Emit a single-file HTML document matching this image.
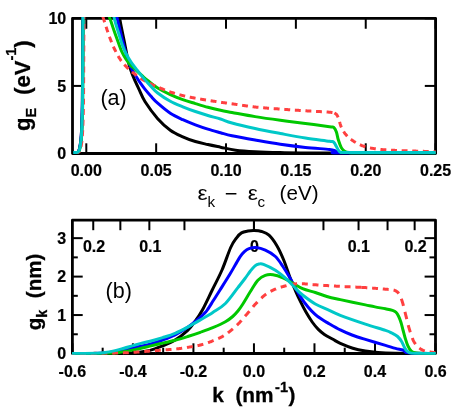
<!DOCTYPE html>
<html><head><meta charset="utf-8"><title>chart</title>
<style>html,body{margin:0;padding:0;background:#fff}svg{display:block;will-change:transform}text{font-family:"Liberation Sans",sans-serif;fill:#000}.t{font-weight:bold;font-size:16.0px;stroke:#000;stroke-width:0.2px}.L{font-weight:bold;font-size:22px;stroke:#000;stroke-width:0.3px}.R{font-size:21.5px}</style>
</head><body>
<svg width="462" height="410" viewBox="0 0 462 410">
<rect x="0" y="0" width="462" height="410" fill="#fff"/>
<defs>
<clipPath id="ca"><rect x="71.20" y="17.05" width="365.70" height="137.75"/></clipPath>
<clipPath id="cb"><rect x="71.10" y="218.90" width="365.70" height="135.90"/></clipPath>
</defs>
<rect x="72.50" y="18.35" width="363.10" height="135.15" fill="none" stroke="#000" stroke-width="2.80" stroke-linejoin="round"/>
<line x1="86.30" y1="153.50" x2="86.30" y2="143.30" stroke="#000" stroke-width="2.00"/>
<line x1="86.30" y1="18.35" x2="86.30" y2="28.75" stroke="#000" stroke-width="2.00"/>
<line x1="156.16" y1="153.50" x2="156.16" y2="143.30" stroke="#000" stroke-width="2.00"/>
<line x1="156.16" y1="18.35" x2="156.16" y2="28.75" stroke="#000" stroke-width="2.00"/>
<line x1="226.02" y1="153.50" x2="226.02" y2="143.30" stroke="#000" stroke-width="2.00"/>
<line x1="226.02" y1="18.35" x2="226.02" y2="28.75" stroke="#000" stroke-width="2.00"/>
<line x1="295.88" y1="153.50" x2="295.88" y2="143.30" stroke="#000" stroke-width="2.00"/>
<line x1="295.88" y1="18.35" x2="295.88" y2="28.75" stroke="#000" stroke-width="2.00"/>
<line x1="365.74" y1="153.50" x2="365.74" y2="143.30" stroke="#000" stroke-width="2.00"/>
<line x1="365.74" y1="18.35" x2="365.74" y2="28.75" stroke="#000" stroke-width="2.00"/>
<line x1="435.60" y1="153.50" x2="435.60" y2="143.30" stroke="#000" stroke-width="2.00"/>
<line x1="435.60" y1="18.35" x2="435.60" y2="28.75" stroke="#000" stroke-width="2.00"/>
<line x1="72.50" y1="153.50" x2="82.80" y2="153.50" stroke="#000" stroke-width="2.00"/>
<line x1="435.60" y1="153.50" x2="424.80" y2="153.50" stroke="#000" stroke-width="2.00"/>
<line x1="72.50" y1="85.92" x2="82.80" y2="85.92" stroke="#000" stroke-width="2.00"/>
<line x1="435.60" y1="85.92" x2="424.80" y2="85.92" stroke="#000" stroke-width="2.00"/>
<line x1="72.50" y1="18.35" x2="82.80" y2="18.35" stroke="#000" stroke-width="2.00"/>
<line x1="435.60" y1="18.35" x2="424.80" y2="18.35" stroke="#000" stroke-width="2.00"/>
<rect x="72.40" y="220.20" width="363.10" height="133.30" fill="none" stroke="#000" stroke-width="2.80" stroke-linejoin="round"/>
<line x1="72.40" y1="353.50" x2="72.40" y2="343.30" stroke="#000" stroke-width="2.00"/>
<line x1="102.66" y1="353.50" x2="102.66" y2="347.70" stroke="#000" stroke-width="2.00"/>
<line x1="132.92" y1="353.50" x2="132.92" y2="343.30" stroke="#000" stroke-width="2.00"/>
<line x1="163.18" y1="353.50" x2="163.18" y2="347.70" stroke="#000" stroke-width="2.00"/>
<line x1="193.43" y1="353.50" x2="193.43" y2="343.30" stroke="#000" stroke-width="2.00"/>
<line x1="223.69" y1="353.50" x2="223.69" y2="347.70" stroke="#000" stroke-width="2.00"/>
<line x1="253.95" y1="353.50" x2="253.95" y2="343.30" stroke="#000" stroke-width="2.00"/>
<line x1="284.21" y1="353.50" x2="284.21" y2="347.70" stroke="#000" stroke-width="2.00"/>
<line x1="314.47" y1="353.50" x2="314.47" y2="343.30" stroke="#000" stroke-width="2.00"/>
<line x1="344.73" y1="353.50" x2="344.73" y2="347.70" stroke="#000" stroke-width="2.00"/>
<line x1="374.98" y1="353.50" x2="374.98" y2="343.30" stroke="#000" stroke-width="2.00"/>
<line x1="405.24" y1="353.50" x2="405.24" y2="347.70" stroke="#000" stroke-width="2.00"/>
<line x1="435.50" y1="353.50" x2="435.50" y2="343.30" stroke="#000" stroke-width="2.00"/>
<line x1="253.95" y1="220.20" x2="253.95" y2="230.20" stroke="#000" stroke-width="2.00"/>
<line x1="253.95" y1="220.20" x2="253.95" y2="230.20" stroke="#000" stroke-width="2.00"/>
<line x1="184.45" y1="220.20" x2="184.45" y2="230.20" stroke="#000" stroke-width="2.00"/>
<line x1="323.45" y1="220.20" x2="323.45" y2="230.20" stroke="#000" stroke-width="2.00"/>
<line x1="149.35" y1="220.20" x2="149.35" y2="230.20" stroke="#000" stroke-width="2.00"/>
<line x1="358.55" y1="220.20" x2="358.55" y2="230.20" stroke="#000" stroke-width="2.00"/>
<line x1="120.35" y1="220.20" x2="120.35" y2="230.20" stroke="#000" stroke-width="2.00"/>
<line x1="387.55" y1="220.20" x2="387.55" y2="230.20" stroke="#000" stroke-width="2.00"/>
<line x1="93.25" y1="220.20" x2="93.25" y2="230.20" stroke="#000" stroke-width="2.00"/>
<line x1="414.65" y1="220.20" x2="414.65" y2="230.20" stroke="#000" stroke-width="2.00"/>
<line x1="72.40" y1="353.50" x2="82.70" y2="353.50" stroke="#000" stroke-width="2.00"/>
<line x1="435.50" y1="353.50" x2="424.60" y2="353.50" stroke="#000" stroke-width="2.00"/>
<line x1="72.40" y1="334.27" x2="77.80" y2="334.27" stroke="#000" stroke-width="2.00"/>
<line x1="435.50" y1="334.27" x2="429.50" y2="334.27" stroke="#000" stroke-width="2.00"/>
<line x1="72.40" y1="315.05" x2="82.70" y2="315.05" stroke="#000" stroke-width="2.00"/>
<line x1="435.50" y1="315.05" x2="424.60" y2="315.05" stroke="#000" stroke-width="2.00"/>
<line x1="72.40" y1="295.82" x2="77.80" y2="295.82" stroke="#000" stroke-width="2.00"/>
<line x1="435.50" y1="295.82" x2="429.50" y2="295.82" stroke="#000" stroke-width="2.00"/>
<line x1="72.40" y1="276.60" x2="82.70" y2="276.60" stroke="#000" stroke-width="2.00"/>
<line x1="435.50" y1="276.60" x2="424.60" y2="276.60" stroke="#000" stroke-width="2.00"/>
<line x1="72.40" y1="257.38" x2="77.80" y2="257.38" stroke="#000" stroke-width="2.00"/>
<line x1="435.50" y1="257.38" x2="429.50" y2="257.38" stroke="#000" stroke-width="2.00"/>
<line x1="72.40" y1="238.15" x2="82.70" y2="238.15" stroke="#000" stroke-width="2.00"/>
<line x1="435.50" y1="238.15" x2="424.60" y2="238.15" stroke="#000" stroke-width="2.00"/>
<text class="t" x="86.30" y="176.4" text-anchor="middle">0.00</text>
<text class="t" x="156.16" y="176.4" text-anchor="middle">0.05</text>
<text class="t" x="226.02" y="176.4" text-anchor="middle">0.10</text>
<text class="t" x="295.88" y="176.4" text-anchor="middle">0.15</text>
<text class="t" x="365.74" y="176.4" text-anchor="middle">0.20</text>
<text class="t" x="435.60" y="176.4" text-anchor="middle">0.25</text>
<text class="t" x="66.2" y="159.35" text-anchor="end">0</text>
<text class="t" x="66.2" y="91.77" text-anchor="end">5</text>
<text class="t" x="66.2" y="24.20" text-anchor="end">10</text>
<text class="t" x="72.40" y="376.8" text-anchor="middle">-0.6</text>
<text class="t" x="132.92" y="376.8" text-anchor="middle">-0.4</text>
<text class="t" x="193.43" y="376.8" text-anchor="middle">-0.2</text>
<text class="t" x="253.95" y="376.8" text-anchor="middle">0.0</text>
<text class="t" x="314.47" y="376.8" text-anchor="middle">0.2</text>
<text class="t" x="374.98" y="376.8" text-anchor="middle">0.4</text>
<text class="t" x="435.50" y="376.8" text-anchor="middle">0.6</text>
<text class="t" x="66.2" y="359.35" text-anchor="end">0</text>
<text class="t" x="66.2" y="320.90" text-anchor="end">1</text>
<text class="t" x="66.2" y="282.45" text-anchor="end">2</text>
<text class="t" x="66.2" y="244.00" text-anchor="end">3</text>
<text class="t" x="94.00" y="252.4" text-anchor="middle">0.2</text>
<text class="t" x="150.30" y="252.4" text-anchor="middle">0.1</text>
<text class="t" x="254.50" y="252.4" text-anchor="middle">0</text>
<text class="t" x="358.80" y="252.4" text-anchor="middle">0.1</text>
<text class="t" x="415.50" y="252.4" text-anchor="middle">0.2</text>
<text class="R" x="100.4" y="104.7">(a)</text>
<text class="R" x="105.6" y="298.1">(b)</text>
<text class="L" transform="translate(30.4,131) rotate(-90)" xml:space="preserve">g<tspan font-size="14.5" dy="6">E</tspan><tspan dy="-6.9" dx="0.8">  (eV</tspan><tspan font-size="14.5" dy="-13.5">-1</tspan><tspan dy="13.5">)</tspan></text>
<text class="L" style="font-size:20.6px" transform="translate(40.6,330.3) rotate(-90)" xml:space="preserve">g<tspan font-size="14.5" dy="6.6">k</tspan><tspan dy="-6.6">  (nm)</tspan></text>
<text class="L" style="font-size:20.8px" x="212.3" y="401.6" xml:space="preserve">k  (nm<tspan font-size="14.5" dy="-9.8" dx="1.5">-1</tspan><tspan dy="9.8" dx="0.5">)</tspan></text>
<text font-family="Liberation Serif" font-size="19.3" transform="translate(197.6,200.3) scale(1.18,1)">ε</text>
<text font-size="15.2" x="207.4" y="206.8">k</text>
<rect x="225.8" y="193.0" width="10.6" height="1.5" fill="#000"/>
<text font-family="Liberation Serif" font-size="19.3" transform="translate(247.8,200.3) scale(1.18,1)">ε</text>
<text font-size="15.2" x="257.4" y="206.8">c</text>
<text font-size="20.6" x="279.6" y="200.1">(eV)</text>
<path d="M73.20 152.50C73.75 152.50 75.68 152.62 76.50 152.50C77.32 152.38 77.63 152.30 78.10 151.80C78.57 151.30 78.95 150.63 79.30 149.50C79.65 148.37 79.93 146.58 80.20 145.00C80.47 143.42 80.67 142.50 80.90 140.00C81.13 137.50 81.40 134.17 81.60 130.00C81.80 125.83 81.97 120.00 82.10 115.00C82.23 110.00 82.31 109.17 82.40 100.00C82.49 90.83 82.58 73.67 82.65 60.00C82.72 46.33 82.77 27.67 82.80 18.00C82.83 8.33 82.84 4.67 82.85 2.00" fill="none" stroke="#000000" stroke-width="3.00" stroke-linejoin="round" clip-path="url(#ca)"/>
<path d="M114.60 -14.00C115.48 -8.40 118.23 10.10 119.90 19.60C121.57 29.10 123.20 35.93 124.60 43.00C126.00 50.07 127.13 57.08 128.30 62.00C129.47 66.92 130.45 69.30 131.60 72.50C132.75 75.70 134.00 78.47 135.20 81.20C136.40 83.93 137.15 85.47 138.80 88.90C140.45 92.34 141.95 96.85 145.10 101.81C148.25 106.77 153.50 113.93 157.70 118.65C161.90 123.38 166.12 127.14 170.30 130.16C174.48 133.18 178.62 134.87 182.80 136.77C186.98 138.67 191.22 140.25 195.40 141.55C199.58 142.85 203.72 143.61 207.90 144.55C212.08 145.49 215.88 146.23 220.50 147.17C225.12 148.11 229.83 149.43 235.60 150.19C241.37 150.95 247.70 151.36 255.10 151.76C262.50 152.16 270.85 152.40 280.00 152.59C289.15 152.78 284.05 152.83 310.00 152.90C335.95 152.97 414.75 152.98 435.70 153.00" fill="none" stroke="#000000" stroke-width="3.00" stroke-linejoin="round" clip-path="url(#ca)"/>
<path d="M73.20 152.50C73.75 152.50 75.68 152.62 76.50 152.50C77.32 152.38 77.63 152.30 78.10 151.80C78.57 151.30 78.95 150.63 79.30 149.50C79.65 148.37 79.93 146.58 80.20 145.00C80.47 143.42 80.67 142.50 80.90 140.00C81.13 137.50 81.40 134.17 81.60 130.00C81.80 125.83 81.97 120.00 82.10 115.00C82.23 110.00 82.31 109.17 82.40 100.00C82.49 90.83 82.58 73.67 82.65 60.00C82.72 46.33 82.77 27.67 82.80 18.00C82.83 8.33 82.84 4.67 82.85 2.00" fill="none" stroke="#0000ff" stroke-width="3.00" stroke-linejoin="round" clip-path="url(#ca)"/>
<path d="M110.50 -10.00C111.67 -5.07 115.52 11.27 117.50 19.60C119.48 27.93 121.05 34.57 122.40 40.00C123.75 45.43 124.45 48.28 125.60 52.20C126.75 56.12 128.15 60.45 129.30 63.50C130.45 66.55 131.33 68.28 132.50 70.50C133.67 72.72 135.00 74.72 136.30 76.80C137.60 78.88 138.90 80.95 140.30 82.97C141.70 84.99 142.92 86.71 144.70 88.93C146.48 91.15 148.83 93.95 151.00 96.31C153.17 98.67 154.48 100.31 157.70 103.12C160.92 105.93 166.12 110.43 170.30 113.19C174.48 115.95 178.62 117.75 182.80 119.69C186.98 121.63 191.22 123.28 195.40 124.86C199.58 126.44 203.72 127.87 207.90 129.18C212.08 130.49 216.48 131.61 220.50 132.70C224.52 133.79 226.23 134.47 232.00 135.70C237.77 136.92 247.05 138.62 255.10 140.05C263.15 141.48 271.92 143.08 280.30 144.30C288.68 145.53 297.20 146.55 305.40 147.40C313.60 148.25 324.67 148.88 329.50 149.40C334.33 149.92 333.15 150.07 334.40 150.50C335.65 150.93 336.07 151.60 337.00 152.00C337.93 152.40 323.55 152.73 340.00 152.90C356.45 153.07 419.75 152.98 435.70 153.00" fill="none" stroke="#0000ff" stroke-width="3.00" stroke-linejoin="round" clip-path="url(#ca)"/>
<path d="M73.52 152.50C74.07 152.50 76.00 152.62 76.82 152.50C77.64 152.38 77.95 152.30 78.42 151.80C78.89 151.30 79.27 150.63 79.62 149.50C79.97 148.37 80.25 146.58 80.52 145.00C80.79 143.42 80.99 142.50 81.22 140.00C81.45 137.50 81.72 134.17 81.92 130.00C82.12 125.83 82.29 120.00 82.42 115.00C82.55 110.00 82.63 109.17 82.72 100.00C82.81 90.83 82.90 73.67 82.97 60.00C83.04 46.33 83.09 27.67 83.12 18.00C83.15 8.33 83.16 4.67 83.17 2.00" fill="none" stroke="#00c800" stroke-width="3.00" stroke-linejoin="round" clip-path="url(#ca)"/>
<path d="M100.00 -10.00C101.72 -5.07 107.97 12.85 110.30 19.60C112.63 26.35 112.82 27.10 114.00 30.50C115.18 33.90 116.12 36.50 117.40 40.00C118.68 43.50 120.27 48.28 121.70 51.50C123.13 54.72 124.55 57.07 126.00 59.30C127.45 61.53 128.73 63.08 130.40 64.90C132.07 66.72 134.00 68.35 136.00 70.20C138.00 72.05 140.40 74.23 142.40 75.99C144.40 77.75 145.45 78.75 148.00 80.77C150.55 82.79 153.98 85.78 157.70 88.10C161.42 90.42 166.12 92.77 170.30 94.70C174.48 96.63 178.62 98.22 182.80 99.70C186.98 101.18 191.22 102.33 195.40 103.60C199.58 104.87 203.72 106.18 207.90 107.30C212.08 108.42 216.48 109.44 220.50 110.30C224.52 111.16 226.23 111.40 232.00 112.45C237.77 113.50 247.05 115.32 255.10 116.63C263.15 117.94 271.92 119.16 280.30 120.30C288.68 121.44 297.20 122.43 305.40 123.50C313.60 124.57 324.77 126.03 329.50 126.70C334.23 127.37 332.65 126.62 333.80 127.50C334.95 128.38 335.65 129.95 336.40 132.00C337.15 134.05 337.48 137.20 338.30 139.80C339.12 142.40 340.32 145.75 341.30 147.60C342.28 149.45 342.92 150.07 344.20 150.90C345.48 151.73 346.37 152.25 349.00 152.60C351.63 152.95 345.55 152.93 360.00 153.00C374.45 153.07 423.08 153.00 435.70 153.00" fill="none" stroke="#00c800" stroke-width="3.00" stroke-linejoin="round" clip-path="url(#ca)"/>
<path d="M74.30 152.50C74.85 152.50 76.78 152.62 77.60 152.50C78.42 152.38 78.73 152.30 79.20 151.80C79.67 151.30 80.05 150.63 80.40 149.50C80.75 148.37 81.03 146.58 81.30 145.00C81.57 143.42 81.77 142.50 82.00 140.00C82.23 137.50 82.50 134.17 82.70 130.00C82.90 125.83 83.07 120.00 83.20 115.00C83.33 110.00 83.41 109.17 83.50 100.00C83.59 90.83 83.68 73.67 83.75 60.00C83.82 46.33 83.87 27.67 83.90 18.00C83.93 8.33 83.94 4.67 83.95 2.00" fill="none" stroke="#ff4040" stroke-width="3.00" stroke-linejoin="round" clip-path="url(#ca)" stroke-dasharray="5.9 4.7" stroke-dashoffset="0.00"/>
<path d="M94.00 -10.00L94.17 -9.50L94.33 -9.00L94.50 -8.49L94.67 -7.99M96.14 -3.53L96.31 -3.02L96.48 -2.51L96.65 -2.00L96.82 -1.49L96.99 -0.98L97.16 -0.47L97.33 0.03L97.49 0.54L97.66 1.05L97.83 1.56L98.00 2.07M99.48 6.53L99.65 7.04L99.82 7.55L99.98 8.06L100.15 8.57L100.32 9.08L100.49 9.59L100.66 10.10L100.83 10.61L101.00 11.12L101.16 11.62L101.33 12.13M102.81 16.60L102.98 17.11L103.15 17.61L103.31 18.12L103.48 18.63L103.65 19.14L103.82 19.65L103.98 20.16L104.15 20.67L104.32 21.18L104.48 21.69L104.65 22.20M106.08 26.68L106.24 27.19L106.40 27.70L106.57 28.21L106.73 28.72L106.89 29.23L107.06 29.75L107.22 30.26L107.39 30.76L107.56 31.27L107.73 31.78L107.90 32.29M109.47 36.72L109.66 37.22L109.84 37.73L110.03 38.23L110.21 38.73L110.40 39.24L110.59 39.74L110.78 40.24L110.97 40.74L111.16 41.24L111.36 41.74L111.56 42.24M113.39 46.57L113.62 47.05L113.84 47.54L114.07 48.03L114.29 48.51L114.52 49.00L114.75 49.48L114.99 49.97L115.22 50.45L115.46 50.93L115.69 51.41L115.93 51.89M118.15 56.03L118.42 56.50L118.69 56.96L118.97 57.42L119.25 57.88L119.53 58.33L119.82 58.78L120.12 59.23L120.42 59.67L120.73 60.11L121.04 60.55L121.36 60.98M124.35 64.60L124.71 65.00L125.08 65.39L125.44 65.78L125.81 66.17L126.18 66.56L126.56 66.95L126.93 67.33L127.31 67.71L127.69 68.09L128.08 68.46L128.47 68.83M132.03 71.89L132.45 72.23L132.86 72.57L133.28 72.90L133.71 73.23L134.13 73.56L134.55 73.89L134.97 74.22L135.40 74.55L135.82 74.88L136.25 75.21L136.67 75.53M140.52 78.23L140.97 78.53L141.41 78.82L141.86 79.11L142.32 79.40L142.77 79.68L143.23 79.96L143.69 80.24L144.16 80.51L144.62 80.77L145.09 81.04L145.56 81.30M149.72 83.47L150.21 83.71L150.69 83.94L151.18 84.17L151.66 84.39L152.15 84.61L152.64 84.84L153.13 85.06L153.62 85.28L154.11 85.49L154.60 85.70L155.09 85.91M159.43 87.73L159.92 87.94L160.42 88.15L160.91 88.35L161.41 88.56L161.90 88.76L162.40 88.96L162.90 89.16L163.40 89.36L163.89 89.56L164.39 89.77L164.89 89.97M169.27 91.66L169.78 91.83L170.29 92.00L170.80 92.16L171.31 92.32L171.82 92.48L172.34 92.64L172.85 92.80L173.36 92.96L173.87 93.12L174.39 93.27L174.90 93.42M179.42 94.72L179.94 94.86L180.46 95.00L180.97 95.13L181.49 95.27L182.01 95.40L182.53 95.53L183.05 95.66L183.57 95.79L184.10 95.91L184.62 96.03L185.14 96.15M189.74 97.12L190.27 97.23L190.79 97.33L191.32 97.43L191.85 97.53L192.37 97.63L192.90 97.73L193.43 97.83L193.96 97.93L194.48 98.03L195.01 98.13L195.54 98.23M200.16 99.04L200.69 99.13L201.22 99.22L201.75 99.31L202.28 99.40L202.81 99.48L203.34 99.57L203.87 99.65L204.40 99.74L204.93 99.82L205.46 99.91L205.99 99.99M210.63 100.73L211.16 100.82L211.69 100.90L212.22 100.98L212.75 101.06L213.28 101.15L213.81 101.23L214.34 101.31L214.87 101.39L215.40 101.47L215.93 101.55L216.46 101.63M221.11 102.32L221.64 102.39L222.17 102.47L222.70 102.54L223.23 102.62L223.77 102.69L224.30 102.76L224.83 102.83L225.36 102.90L225.89 102.97L226.42 103.04L226.96 103.12M231.61 103.75L232.14 103.82L232.68 103.89L233.21 103.97L233.74 104.05L234.27 104.12L234.80 104.20L235.33 104.28L235.86 104.36L236.39 104.44L236.92 104.52L237.45 104.60M242.10 105.29L242.63 105.37L243.16 105.45L243.69 105.53L244.22 105.60L244.75 105.68L245.28 105.76L245.82 105.83L246.35 105.91L246.88 105.98L247.41 106.05L247.94 106.13M252.60 106.73L253.13 106.80L253.67 106.86L254.20 106.92L254.73 106.98L255.27 107.04L255.80 107.09L256.33 107.15L256.87 107.21L257.40 107.26L257.93 107.31L258.47 107.36M263.15 107.78L263.68 107.83L264.22 107.87L264.75 107.92L265.29 107.96L265.82 108.00L266.36 108.04L266.89 108.09L267.43 108.13L267.96 108.17L268.50 108.21L269.03 108.25M273.72 108.59L274.25 108.63L274.79 108.67L275.32 108.71L275.86 108.74L276.39 108.78L276.93 108.82L277.46 108.86L278.00 108.90L278.53 108.94L279.07 108.98L279.60 109.02M284.29 109.37L284.82 109.40L285.36 109.44L285.89 109.48L286.43 109.52L286.96 109.56L287.50 109.60L288.03 109.63L288.57 109.67L289.10 109.71L289.64 109.75L290.17 109.79M294.86 110.11L295.40 110.14L295.93 110.18L296.47 110.22L297.00 110.25L297.54 110.29L298.07 110.32L298.61 110.36L299.14 110.39L299.68 110.43L300.22 110.47L300.75 110.50M305.44 110.80L305.98 110.84L306.51 110.87L307.05 110.90L307.58 110.93L308.12 110.96L308.65 110.99L309.19 111.02L309.72 111.05L310.26 111.08L310.80 111.11L311.33 111.14M316.02 111.39L316.56 111.41L317.10 111.44L317.63 111.47L318.17 111.50L318.70 111.52L319.24 111.55L319.77 111.58L320.31 111.61L320.85 111.64L321.38 111.66L321.92 111.69M326.61 111.97L327.14 112.01L327.68 112.05L328.21 112.09L328.75 112.13L329.28 112.18L329.82 112.23L330.35 112.28L330.88 112.33L331.42 112.39L331.95 112.44L332.48 112.51M334.40 112.97L334.86 113.24L335.31 113.54L335.75 113.84L336.17 114.17L336.55 114.55L336.88 114.97L337.18 115.42L337.44 115.89L337.68 116.37L337.90 116.86L338.12 117.35M339.57 121.81L339.72 122.33L339.86 122.84L340.00 123.36L340.15 123.87L340.31 124.39L340.47 124.90L340.64 125.41L340.82 125.91L341.01 126.41L341.22 126.91L341.44 127.40M343.66 131.54L343.94 131.99L344.24 132.44L344.54 132.88L344.85 133.32L345.17 133.75L345.50 134.17L345.84 134.59L346.19 135.00L346.54 135.40L346.91 135.79L347.28 136.18M350.84 139.24L351.27 139.56L351.70 139.88L352.14 140.19L352.57 140.50L353.01 140.81L353.46 141.11L353.90 141.41L354.36 141.70L354.81 141.98L355.27 142.26L355.73 142.53M359.90 144.70L360.39 144.92L360.88 145.13L361.37 145.35L361.87 145.55L362.37 145.75L362.87 145.93L363.38 146.12L363.88 146.29L364.39 146.46L364.90 146.62L365.42 146.77M369.98 147.90L370.51 148.00L371.03 148.10L371.56 148.20L372.09 148.29L372.62 148.38L373.15 148.47L373.68 148.55L374.21 148.63L374.74 148.71L375.27 148.79L375.80 148.86M380.47 149.43L381.00 149.48L381.53 149.53L382.07 149.57L382.60 149.62L383.14 149.66L383.67 149.70L384.21 149.74L384.74 149.78L385.28 149.81L385.81 149.85L386.35 149.88M391.04 150.18L391.57 150.21L392.11 150.23L392.65 150.26L393.18 150.29L393.72 150.31L394.25 150.34L394.79 150.36L395.32 150.39L395.86 150.41L396.40 150.43L396.93 150.46M401.63 150.65L402.16 150.67L402.70 150.69L403.24 150.71L403.77 150.73L404.31 150.75L404.84 150.77L405.38 150.79L405.92 150.80L406.45 150.82L406.99 150.84L407.52 150.86M412.22 151.01L412.76 151.03L413.29 151.04L413.83 151.06L414.37 151.08L414.90 151.09L415.44 151.11L415.97 151.12L416.51 151.14L417.05 151.16L417.58 151.17L418.12 151.19M422.82 151.33L423.35 151.35L423.89 151.37L424.42 151.38L424.96 151.40L425.50 151.41L426.03 151.43L426.57 151.45L427.11 151.46L427.64 151.48L428.18 151.50L428.71 151.51M433.41 151.67L433.98 151.70L434.56 151.72L435.13 151.76L435.70 151.80" fill="none" stroke="#ff4040" stroke-width="3.00" clip-path="url(#ca)"/>
<path d="M73.40 152.50C73.95 152.50 75.88 152.62 76.70 152.50C77.52 152.38 77.83 152.30 78.30 151.80C78.77 151.30 79.15 150.63 79.50 149.50C79.85 148.37 80.13 146.58 80.40 145.00C80.67 143.42 80.87 142.50 81.10 140.00C81.33 137.50 81.60 134.17 81.80 130.00C82.00 125.83 82.17 120.00 82.30 115.00C82.43 110.00 82.51 109.17 82.60 100.00C82.69 90.83 82.78 73.67 82.85 60.00C82.92 46.33 82.97 27.67 83.00 18.00C83.03 8.33 83.04 4.67 83.05 2.00" fill="none" stroke="#00c8c8" stroke-width="3.00" stroke-linejoin="round" clip-path="url(#ca)"/>
<path d="M107.50 -10.00C108.68 -5.07 112.75 12.43 114.60 19.60C116.45 26.77 117.32 28.77 118.60 33.00C119.88 37.23 121.05 41.53 122.30 45.00C123.55 48.47 124.62 50.92 126.10 53.80C127.58 56.68 129.27 59.47 131.20 62.30C133.13 65.13 135.40 67.87 137.70 70.80C140.00 73.73 142.78 77.28 145.00 79.88C147.22 82.48 148.88 84.22 151.00 86.40C153.12 88.58 154.48 90.49 157.70 92.97C160.92 95.45 166.12 98.98 170.30 101.29C174.48 103.60 178.62 105.13 182.80 106.84C186.98 108.55 191.22 110.10 195.40 111.54C199.58 112.98 203.72 114.24 207.90 115.49C212.08 116.74 216.48 117.77 220.50 119.03C224.52 120.29 226.23 121.48 232.00 123.06C237.77 124.64 247.05 126.79 255.10 128.53C263.15 130.27 271.92 131.90 280.30 133.48C288.68 135.06 297.20 136.74 305.40 138.03C313.60 139.32 324.77 140.49 329.50 141.20C334.23 141.91 332.65 141.40 333.80 142.30C334.95 143.20 335.48 145.07 336.40 146.60C337.32 148.13 338.33 150.52 339.30 151.50C340.27 152.48 340.42 152.32 342.20 152.50C343.98 152.68 334.42 152.58 350.00 152.60C365.58 152.62 421.42 152.60 435.70 152.60" fill="none" stroke="#00c8c8" stroke-width="3.00" stroke-linejoin="round" clip-path="url(#ca)"/>
<path d="M72.00 353.50C80.00 353.45 109.50 353.37 120.00 353.20C130.50 353.03 130.00 352.99 135.00 352.51C140.00 352.03 145.40 351.46 150.00 350.35C154.60 349.24 158.42 347.57 162.60 345.86C166.78 344.15 170.92 342.66 175.10 340.07C179.28 337.48 184.38 333.39 187.70 330.30C191.02 327.21 192.55 324.88 195.00 321.50C197.45 318.12 199.57 315.17 202.40 310.00C205.23 304.83 208.73 297.17 212.00 290.50C215.27 283.83 218.88 277.17 222.00 270.00C225.12 262.83 228.27 252.87 230.70 247.50C233.13 242.13 234.80 240.23 236.60 237.80C238.40 235.37 239.60 234.02 241.50 232.90C243.40 231.78 245.92 231.48 248.00 231.10C250.08 230.72 251.73 230.53 254.00 230.60C256.27 230.67 259.10 230.75 261.60 231.50C264.10 232.25 266.50 232.82 269.00 235.10C271.50 237.38 274.13 241.02 276.60 245.20C279.07 249.38 281.48 254.60 283.80 260.20C286.12 265.80 288.55 273.70 290.50 278.80C292.45 283.90 293.83 287.00 295.50 290.80C297.17 294.60 298.73 298.02 300.50 301.60C302.27 305.18 304.15 308.90 306.10 312.30C308.05 315.70 310.17 319.15 312.20 322.00C314.23 324.85 316.27 327.33 318.30 329.40C320.33 331.47 321.97 332.75 324.40 334.40C326.83 336.05 330.25 337.80 332.90 339.30C335.55 340.80 336.98 341.92 340.30 343.40C343.62 344.88 348.62 346.93 352.80 348.20C356.98 349.47 361.20 350.28 365.40 351.00C369.60 351.72 373.07 352.13 378.00 352.50C382.93 352.87 385.38 353.03 395.00 353.20C404.62 353.37 428.92 353.45 435.70 353.50" fill="none" stroke="#000000" stroke-width="3.00" stroke-linejoin="round" clip-path="url(#cb)"/>
<path d="M72.00 353.50C76.67 353.45 93.83 353.37 100.00 353.20C106.17 353.03 106.00 352.87 109.00 352.50C112.00 352.13 114.83 351.62 118.00 351.00C121.17 350.38 124.83 349.47 128.00 348.80C131.17 348.13 133.33 347.77 137.00 347.00C140.67 346.23 145.73 345.31 150.00 344.15C154.27 342.99 158.42 341.58 162.60 340.02C166.78 338.46 170.92 336.93 175.10 334.79C179.28 332.65 184.38 329.38 187.70 327.18C191.02 324.98 192.92 323.25 195.00 321.60C197.08 319.95 198.70 318.62 200.20 317.30C201.70 315.98 202.82 314.92 204.00 313.70C205.18 312.48 205.72 312.23 207.30 310.00C208.88 307.77 211.38 303.63 213.50 300.30C215.62 296.97 217.25 294.38 220.00 290.00C222.75 285.62 227.42 278.25 230.00 274.00C232.58 269.75 233.83 267.37 235.50 264.50C237.17 261.63 238.52 258.95 240.00 256.80C241.48 254.65 242.90 252.95 244.40 251.60C245.90 250.25 247.07 249.37 249.00 248.70C250.93 248.03 253.28 247.35 256.00 247.60C258.72 247.85 262.07 248.72 265.30 250.20C268.53 251.68 272.47 253.78 275.40 256.50C278.33 259.22 280.42 262.83 282.90 266.50C285.38 270.17 287.37 273.47 290.30 278.54C293.23 283.61 297.55 292.16 300.50 296.90C303.45 301.64 305.57 304.10 308.00 307.00C310.43 309.90 312.87 312.28 315.10 314.30C317.33 316.32 319.30 317.67 321.40 319.10C323.50 320.53 324.55 321.10 327.70 322.90C330.85 324.70 336.25 327.88 340.30 329.90C344.35 331.92 347.82 333.42 352.00 335.00C356.18 336.58 359.82 337.67 365.40 339.40C370.98 341.13 380.48 343.90 385.50 345.40C390.52 346.90 392.63 347.63 395.50 348.40C398.37 349.17 401.02 349.40 402.70 350.00C404.38 350.60 404.47 351.52 405.60 352.00C406.73 352.48 404.48 352.65 409.50 352.90C414.52 353.15 431.33 353.40 435.70 353.50" fill="none" stroke="#0000ff" stroke-width="3.00" stroke-linejoin="round" clip-path="url(#cb)"/>
<path d="M72.00 353.50C78.33 353.45 102.00 353.40 110.00 353.20C118.00 353.00 115.83 352.90 120.00 352.30C124.17 351.70 130.00 350.65 135.00 349.62C140.00 348.59 145.40 347.18 150.00 346.10C154.60 345.02 158.42 344.12 162.60 343.16C166.78 342.20 170.92 341.42 175.10 340.32C179.28 339.22 183.50 337.88 187.70 336.55C191.90 335.22 196.12 333.81 200.30 332.33C204.48 330.85 208.62 329.44 212.80 327.69C216.98 325.94 222.08 323.67 225.40 321.80C228.72 319.94 230.62 318.30 232.70 316.50C234.78 314.70 236.23 313.05 237.90 311.00C239.57 308.95 240.62 307.45 242.70 304.20C244.78 300.95 247.87 295.50 250.40 291.50C252.93 287.50 255.42 282.88 257.90 280.20C260.38 277.52 262.80 276.30 265.30 275.40C267.80 274.50 269.97 274.40 272.90 274.80C275.83 275.20 279.63 276.43 282.90 277.80C286.17 279.17 289.22 281.20 292.50 283.00C295.78 284.80 298.80 287.02 302.60 288.60C306.40 290.18 311.12 291.15 315.30 292.50C319.48 293.85 323.53 295.52 327.70 296.70C331.87 297.88 334.02 298.23 340.30 299.60C346.58 300.97 359.62 303.68 365.40 304.90C371.18 306.12 371.65 306.25 375.00 306.90C378.35 307.55 382.58 308.22 385.50 308.80C388.42 309.38 390.75 309.82 392.50 310.40C394.25 310.98 394.97 311.28 396.00 312.30C397.03 313.32 397.87 314.80 398.70 316.50C399.53 318.20 400.28 320.25 401.00 322.50C401.72 324.75 402.28 327.33 403.00 330.00C403.72 332.67 404.48 335.85 405.30 338.50C406.12 341.15 406.92 343.80 407.90 345.90C408.88 348.00 410.08 349.95 411.20 351.10C412.32 352.25 413.13 352.43 414.60 352.80C416.07 353.17 416.48 353.18 420.00 353.30C423.52 353.42 433.08 353.47 435.70 353.50" fill="none" stroke="#00c800" stroke-width="3.00" stroke-linejoin="round" clip-path="url(#cb)"/>
<path d="M72.00 353.50L72.55 353.49L73.10 353.49L73.64 353.49L74.19 353.48L74.74 353.48L75.29 353.47M80.09 353.45L80.62 353.45L81.16 353.44L81.70 353.44L82.23 353.44L82.77 353.44L83.30 353.43L83.84 353.43L84.38 353.43L84.91 353.43L85.45 353.42L85.99 353.42M90.79 353.39L91.32 353.39L91.86 353.39L92.40 353.38L92.93 353.38L93.47 353.38L94.00 353.37L94.54 353.37L95.08 353.37L95.61 353.36L96.15 353.36L96.69 353.35M101.49 353.31L102.02 353.31L102.56 353.30L103.10 353.30L103.63 353.29L104.17 353.29L104.70 353.28L105.24 353.27L105.78 353.27L106.31 353.26L106.85 353.25L107.39 353.25M112.19 353.18L112.72 353.17L113.26 353.16L113.79 353.15L114.33 353.14L114.87 353.13L115.40 353.12L115.94 353.11L116.48 353.09L117.01 353.08L117.55 353.07L118.09 353.05M122.88 352.90L123.42 352.88L123.96 352.85L124.49 352.83L125.03 352.81L125.56 352.78L126.10 352.76L126.64 352.73L127.17 352.71L127.71 352.68L128.24 352.65L128.78 352.62M133.57 352.32L134.11 352.29L134.65 352.25L135.18 352.21L135.72 352.17L136.25 352.13L136.79 352.09L137.32 352.05L137.86 352.01L138.39 351.97L138.93 351.93L139.46 351.88M144.26 351.49L144.79 351.45L145.33 351.41L145.86 351.37L146.40 351.32L146.93 351.28L147.47 351.24L148.00 351.20L148.54 351.16L149.07 351.12L149.61 351.08L150.14 351.04M154.94 350.69L155.47 350.65L156.01 350.61L156.54 350.57L157.08 350.53L157.61 350.49L158.15 350.45L158.69 350.41L159.22 350.37L159.76 350.33L160.29 350.29L160.83 350.25M165.62 349.88L166.15 349.83L166.69 349.79L167.22 349.75L167.76 349.70L168.30 349.66L168.83 349.61L169.37 349.57L169.90 349.52L170.44 349.48L170.97 349.43L171.51 349.38M176.29 348.93L176.83 348.87L177.36 348.82L177.90 348.76L178.43 348.70L178.97 348.64L179.50 348.57L180.03 348.51L180.57 348.44L181.10 348.37L181.64 348.30L182.17 348.22M186.93 347.47L187.47 347.39L188.00 347.30L188.53 347.22L189.06 347.14L189.60 347.05L190.13 346.97L190.66 346.89L191.19 346.81L191.73 346.73L192.26 346.64L192.79 346.56M197.54 345.69L198.07 345.58L198.60 345.46L199.13 345.34L199.66 345.21L200.18 345.08L200.71 344.94L201.24 344.80L201.76 344.66L202.28 344.51L202.81 344.36L203.33 344.21M207.99 342.69L208.50 342.51L209.02 342.32L209.54 342.13L210.05 341.94L210.57 341.74L211.08 341.54L211.59 341.34L212.11 341.13L212.62 340.92L213.13 340.71L213.64 340.50M218.21 338.58L218.71 338.36L219.22 338.12L219.72 337.89L220.23 337.65L220.73 337.40L221.23 337.15L221.73 336.89L222.22 336.62L222.72 336.35L223.21 336.07L223.70 335.79M227.95 332.89L228.41 332.53L228.87 332.17L229.32 331.81L229.78 331.44L230.23 331.07L230.68 330.69L231.13 330.31L231.58 329.93L232.03 329.54L232.47 329.16L232.92 328.77M236.84 325.18L237.28 324.78L237.71 324.37L238.15 323.95L238.58 323.54L239.00 323.11L239.42 322.68L239.84 322.25L240.25 321.80L240.66 321.35L241.07 320.89L241.47 320.43M245.01 316.22L245.41 315.76L245.82 315.31L246.22 314.85L246.63 314.40L247.03 313.94L247.44 313.49L247.85 313.03L248.25 312.57L248.66 312.12L249.06 311.66L249.46 311.20M252.93 306.90L253.32 306.41L253.72 305.94L254.12 305.48L254.52 305.03L254.94 304.58L255.35 304.14L255.77 303.71L256.19 303.27L256.61 302.84L257.03 302.41L257.45 301.97M261.26 298.18L261.70 297.78L262.13 297.37L262.57 296.97L263.01 296.57L263.46 296.18L263.91 295.80L264.36 295.42L264.81 295.06L265.27 294.70L265.74 294.35L266.21 294.01M270.55 291.37L271.05 291.12L271.55 290.87L272.05 290.62L272.56 290.38L273.06 290.14L273.57 289.91L274.07 289.68L274.58 289.46L275.09 289.24L275.60 289.02L276.11 288.80M280.75 287.21L281.27 287.06L281.79 286.91L282.32 286.76L282.84 286.61L283.37 286.46L283.89 286.32L284.42 286.18L284.94 286.03L285.47 285.88L285.99 285.73L286.51 285.58M291.22 284.37L291.75 284.28L292.28 284.19L292.82 284.12L293.35 284.06L293.89 284.00L294.42 283.96L294.96 283.91L295.49 283.88L296.03 283.84L296.56 283.82L297.10 283.79M301.90 283.77L302.44 283.78L302.97 283.80L303.51 283.82L304.04 283.84L304.58 283.87L305.12 283.91L305.65 283.95L306.19 283.99L306.72 284.04L307.26 284.09L307.79 284.14M312.58 284.59L313.11 284.64L313.65 284.68L314.19 284.72L314.72 284.76L315.26 284.80L315.79 284.83L316.33 284.87L316.86 284.91L317.40 284.95L317.93 284.98L318.47 285.02M323.26 285.34L323.80 285.38L324.34 285.41L324.87 285.45L325.41 285.48L325.94 285.52L326.48 285.55L327.01 285.59L327.55 285.62L328.08 285.66L328.62 285.69L329.16 285.73M333.95 286.03L334.49 286.06L335.02 286.09L335.56 286.12L336.09 286.16L336.63 286.19L337.17 286.22L337.70 286.25L338.24 286.28L338.77 286.31L339.31 286.34L339.84 286.37M344.64 286.62L345.18 286.65L345.71 286.67L346.25 286.70L346.78 286.72L347.32 286.75L347.86 286.77L348.39 286.79L348.93 286.82L349.47 286.84L350.00 286.86L350.54 286.89M355.33 287.09L355.87 287.12L356.41 287.14L356.94 287.16L357.48 287.19L358.01 287.21L358.55 287.24L359.09 287.26L359.62 287.29L360.16 287.31L360.69 287.34L361.23 287.37M361.41 287.38L361.95 287.40L362.49 287.43L363.02 287.46L363.56 287.49L364.09 287.52L364.63 287.55L365.16 287.59L365.70 287.62L366.24 287.65L366.77 287.69L367.31 287.72M372.10 288.07L372.64 288.12L373.17 288.16L373.71 288.20L374.24 288.24L374.78 288.29L375.31 288.33L375.85 288.38L376.38 288.42L376.92 288.46L377.45 288.51L377.99 288.56M382.78 288.97L383.31 289.02L383.85 289.06L384.38 289.11L384.92 289.15L385.45 289.20L385.99 289.24L386.52 289.28L387.06 289.32L387.60 289.36L388.13 289.40L388.67 289.44M393.60 290.05L394.13 290.17L394.65 290.34L395.16 290.54L395.66 290.80L396.15 291.09L396.63 291.40L397.10 291.74L397.55 292.11L397.97 292.55L398.36 293.02L398.72 293.54M401.28 298.80L401.52 299.42L401.75 300.05L401.97 300.69L402.18 301.33L402.38 301.97L402.58 302.62L402.77 303.27L402.95 303.92L403.13 304.58L403.31 305.24L403.48 305.90M404.94 311.84L405.10 312.50L405.26 313.17L405.43 313.83L405.59 314.49L405.76 315.15L405.93 315.81L406.10 316.48L406.26 317.14L406.43 317.80L406.59 318.47L406.75 319.13M408.22 325.06L408.39 325.72L408.57 326.38L408.75 327.04L408.94 327.69L409.13 328.34L409.33 328.99L409.52 329.64L409.72 330.28L409.92 330.93L410.12 331.58L410.32 332.22M412.26 337.93L412.50 338.55L412.75 339.16L413.01 339.77L413.29 340.37L413.57 340.96L413.87 341.53L414.19 342.10L414.52 342.64L414.87 343.17L415.23 343.69L415.61 344.19M419.38 348.02L419.83 348.39L420.29 348.75L420.77 349.08L421.25 349.39L421.74 349.67L422.24 349.92L422.74 350.16L423.25 350.37L423.77 350.57L424.28 350.76L424.80 350.93M429.53 351.96L430.06 352.04L430.60 352.11L431.13 352.18L431.66 352.25L432.20 352.33L432.73 352.40L433.26 352.47L433.80 352.53L434.33 352.58L434.87 352.63L435.40 352.67" fill="none" stroke="#ff4040" stroke-width="3.00" clip-path="url(#cb)"/>
<path d="M72.00 353.50C76.17 353.45 91.50 353.35 97.00 353.20C102.50 353.05 102.17 352.98 105.00 352.60C107.83 352.22 110.83 351.63 114.00 350.90C117.17 350.17 120.83 349.08 124.00 348.20C127.17 347.32 130.17 346.40 133.00 345.60C135.83 344.80 138.17 344.12 141.00 343.40C143.83 342.68 146.40 342.27 150.00 341.30C153.60 340.33 158.42 338.94 162.60 337.60C166.78 336.26 170.92 335.03 175.10 333.27C179.28 331.51 183.50 329.28 187.70 327.06C191.90 324.84 196.12 322.38 200.30 319.95C204.48 317.52 208.62 315.25 212.80 312.50C216.98 309.75 221.22 307.61 225.40 303.46C229.58 299.31 234.63 291.76 237.90 287.60C241.17 283.44 242.92 281.27 245.00 278.50C247.08 275.73 248.73 273.12 250.40 271.00C252.07 268.88 253.57 266.97 255.00 265.80C256.43 264.63 257.58 264.25 259.00 264.00C260.42 263.75 260.77 263.25 263.50 264.30C266.23 265.35 271.33 267.63 275.40 270.30C279.47 272.97 284.55 277.28 287.90 280.30C291.25 283.32 293.05 286.00 295.50 288.45C297.95 290.90 299.30 292.41 302.60 295.00C305.90 297.59 311.12 301.55 315.30 303.99C319.48 306.43 323.53 307.74 327.70 309.62C331.87 311.50 334.02 312.89 340.30 315.30C346.58 317.71 357.87 321.58 365.40 324.10C372.93 326.62 381.10 328.92 385.50 330.40C389.90 331.88 389.78 331.98 391.80 333.00C393.82 334.02 395.97 335.08 397.60 336.50C399.23 337.92 400.28 339.37 401.60 341.50C402.92 343.63 404.28 347.50 405.50 349.30C406.72 351.10 407.40 351.62 408.90 352.30C410.40 352.98 410.03 353.20 414.50 353.40C418.97 353.60 432.17 353.48 435.70 353.50" fill="none" stroke="#00c8c8" stroke-width="3.00" stroke-linejoin="round" clip-path="url(#cb)"/>
</svg>
</body></html>
